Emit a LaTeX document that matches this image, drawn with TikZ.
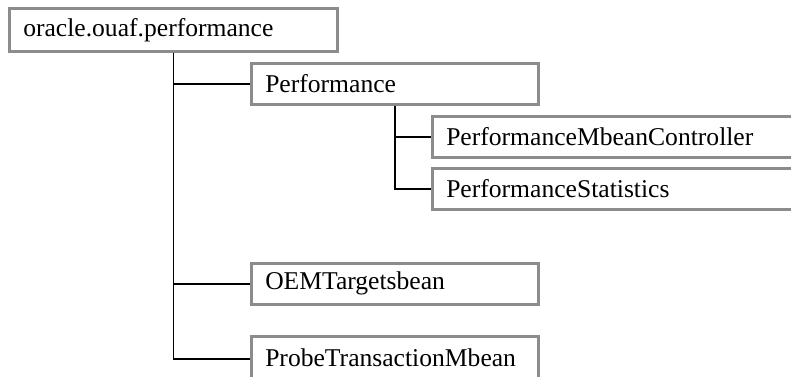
\documentclass[tikz,border=0pt]{standalone}
\usepackage{fontspec}
\setmainfont{Liberation Serif}
\usepackage{tikz}
\usetikzlibrary{positioning}
\tikzset{
	every text node part/.style= {
		align=left
	},
	package/.style= {
		rectangle,
		draw=black!45,
		line width=1.25pt,
		fill=white,
		inner xsep=7pt,
		inner ysep=0pt,
		anchor=north west,
		minimum height=20.5pt,
		font=\fontsize{12.8}{14}\selectfont,
		text width=#1
	},
	branch/.style= {
		black,
		line width=0.75pt
	}
}

\begin{document}
\begin{tikzpicture}[x=0.5pt, y=-0.5pt]

	\path[use as bounding box, clip] (0,0) rectangle (791,376);

	\node (root)[package=150pt, minimum height=21.5pt] at (8,7) {oracle.ouaf.performance};
	
	\node (perf)[package=129.5pt] at (250,62) {Performance};
	\node (ctrl)[package=186pt] at (431,115) {PerformanceMbeanController};
	\node (stats)[package=186pt] at (431,167) {PerformanceStatistics};
	
	\node (oem)[package=129.5pt] at (250,262) {OEMTargetsbean};
	\node (probe)[package=129.5pt, minimum height=21.5pt] at (250,335) {ProbeTransactionMbean};
	
	\foreach \child in {perf, oem}
	{
		\draw[branch] (root.south) |- (\child.west);
	}
	\draw[branch] (root.south) |- ([yshift=-0.5]probe.west);
	
	\foreach \child in {ctrl, stats}
	{
		\draw[branch] (perf.south) |- (\child.west);
	}
	
\end{tikzpicture}
\end{document}
